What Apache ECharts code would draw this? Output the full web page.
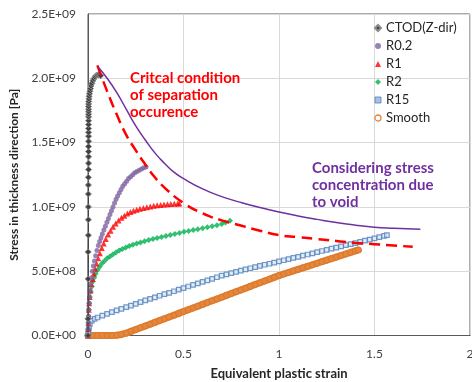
<!DOCTYPE html>
<html>
<head>
<meta charset="utf-8">
<script src="https://cdn.jsdelivr.net/npm/echarts@6/dist/echarts.min.js"></script>
<style>html,body{margin:0;padding:0;background:#fff;}#c{width:472px;height:382px;}</style>
</head>
<body>
<div id="c"></div>
<script>
// Values: x = equivalent plastic strain, y = stress in units of 1E+09 Pa
const xTicks = [0, 0.5, 1, 1.5, 2];
const yTicks = [0, 0.5, 1.0, 1.5, 2.0, 2.5];
const legendNames = ['CTOD(Z-dir)', 'R0.2', 'R1', 'R2', 'R15', 'Smooth'];

const ctod = [[0,0],[0,0.13],[0.001,0.44],[0.001,0.65],[0.002,0.78],[0.002,0.9],[0.002,1.0],[0.002,1.1],[0.002,1.17],[0.002,1.23],[0.003,1.29],[0.003,1.34],[0.003,1.39],[0.003,1.43],[0.003,1.47],[0.003,1.51],[0.003,1.55],[0.003,1.58],[0.003,1.61],[0.003,1.64],[0.003,1.67],[0.003,1.7],[0.003,1.72],[0.003,1.74],[0.003,1.76],[0.003,1.78],[0.003,1.8],[0.004,1.82],[0.005,1.84],[0.006,1.86],[0.008,1.88],[0.01,1.9],[0.013,1.92],[0.016,1.94],[0.02,1.96],[0.025,1.98],[0.03,1.995],[0.036,2.01],[0.042,2.02],[0.048,2.025],[0.054,2.028],[0.06,2.025],[0.066,2.02]];

const r02 = [[0,0],[0.001,0.05],[0.002,0.1],[0.003,0.15],[0.004,0.2],[0.006,0.25],[0.008,0.3],[0.011,0.35],[0.014,0.4],[0.018,0.45],[0.023,0.5],[0.028,0.54],[0.034,0.58],[0.04,0.62],[0.047,0.66],[0.054,0.7],[0.061,0.73],[0.068,0.76],[0.075,0.79],[0.083,0.82],[0.091,0.85],[0.099,0.88],[0.107,0.91],[0.115,0.94],[0.123,0.97],[0.131,1.0],[0.139,1.03],[0.147,1.06],[0.155,1.085],[0.164,1.11],[0.173,1.135],[0.182,1.16],[0.192,1.18],[0.202,1.2],[0.212,1.22],[0.223,1.235],[0.234,1.25],[0.245,1.265],[0.256,1.275],[0.268,1.285],[0.28,1.295],[0.292,1.305],[0.304,1.31]];

const r1 = [[0,0],[0.001,0.05],[0.002,0.1],[0.003,0.15],[0.004,0.2],[0.006,0.25],[0.009,0.3],[0.013,0.35],[0.018,0.4],[0.024,0.44],[0.03,0.48],[0.037,0.52],[0.045,0.56],[0.053,0.6],[0.062,0.64],[0.072,0.68],[0.082,0.715],[0.093,0.75],[0.105,0.785],[0.118,0.815],[0.131,0.845],[0.145,0.87],[0.16,0.895],[0.175,0.915],[0.19,0.932],[0.206,0.948],[0.222,0.96],[0.238,0.97],[0.255,0.978],[0.272,0.985],[0.29,0.992],[0.308,0.998],[0.326,1.003],[0.344,1.008],[0.362,1.012],[0.38,1.015],[0.398,1.018],[0.416,1.02],[0.434,1.022],[0.452,1.024],[0.47,1.026],[0.478,1.027]];

const r2 = [[0,0],[0.001,0.05],[0.002,0.1],[0.003,0.15],[0.005,0.2],[0.007,0.25],[0.01,0.3],[0.014,0.34],[0.019,0.38],[0.025,0.42],[0.032,0.45],[0.04,0.48],[0.05,0.51],[0.061,0.535],[0.073,0.56],[0.086,0.58],[0.1,0.6],[0.115,0.615],[0.13,0.63],[0.146,0.645],[0.163,0.66],[0.18,0.672],[0.198,0.684],[0.216,0.695],[0.235,0.705],[0.255,0.715],[0.275,0.724],[0.296,0.733],[0.318,0.742],[0.34,0.75],[0.362,0.758],[0.385,0.766],[0.408,0.774],[0.431,0.782],[0.455,0.79],[0.479,0.798],[0.503,0.806],[0.527,0.813],[0.551,0.82],[0.575,0.827],[0.6,0.834],[0.625,0.842],[0.65,0.85],[0.675,0.858],[0.7,0.868],[0.72,0.878],[0.743,0.893]];

const r15 = [[0,0],[0.002,0.03],[0.005,0.06],[0.01,0.09],[0.02,0.115],[0.035,0.13],[0.05,0.14],[0.075,0.155],[0.1,0.168],[0.125,0.182],[0.15,0.195],[0.175,0.207],[0.2,0.22],[0.225,0.233],[0.25,0.246],[0.275,0.26],[0.3,0.273],[0.325,0.285],[0.35,0.297],[0.375,0.309],[0.4,0.321],[0.425,0.332],[0.45,0.344],[0.475,0.356],[0.5,0.368],[0.525,0.381],[0.55,0.393],[0.575,0.405],[0.6,0.417],[0.625,0.429],[0.65,0.441],[0.675,0.453],[0.7,0.465],[0.725,0.475],[0.75,0.485],[0.775,0.495],[0.8,0.505],[0.825,0.514],[0.85,0.523],[0.875,0.532],[0.9,0.541],[0.925,0.55],[0.95,0.558],[0.975,0.567],[1.0,0.576],[1.025,0.585],[1.05,0.594],[1.075,0.603],[1.1,0.612],[1.125,0.621],[1.15,0.63],[1.175,0.639],[1.2,0.648],[1.225,0.657],[1.25,0.666],[1.275,0.675],[1.3,0.684],[1.325,0.693],[1.35,0.702],[1.375,0.71],[1.4,0.719],[1.425,0.728],[1.45,0.737],[1.475,0.746],[1.5,0.755],[1.525,0.765],[1.55,0.775],[1.565,0.78]];

const smooth = [[0,0],[0.025,0],[0.05,0],[0.075,0],[0.1,0],[0.125,0],[0.15,0.002],[0.175,0.008],[0.2,0.018],[0.225,0.032],[0.25,0.046],[0.275,0.06],[0.3,0.074],[0.325,0.088],[0.35,0.102],[0.375,0.116],[0.4,0.13],[0.425,0.144],[0.45,0.158],[0.475,0.172],[0.5,0.186],[0.525,0.2],[0.55,0.214],[0.575,0.228],[0.6,0.242],[0.625,0.256],[0.65,0.27],[0.675,0.284],[0.7,0.298],[0.725,0.312],[0.75,0.326],[0.775,0.34],[0.8,0.354],[0.825,0.368],[0.85,0.382],[0.875,0.396],[0.9,0.41],[0.925,0.424],[0.95,0.438],[0.975,0.452],[1.0,0.466],[1.025,0.478],[1.05,0.49],[1.075,0.502],[1.1,0.514],[1.125,0.526],[1.15,0.538],[1.175,0.55],[1.2,0.562],[1.225,0.574],[1.25,0.586],[1.275,0.598],[1.3,0.61],[1.325,0.622],[1.35,0.634],[1.375,0.646],[1.4,0.658],[1.415,0.665]];

const voidCurve = [[0.054,2.085],[0.1,2.0],[0.15,1.89],[0.2,1.76],[0.25,1.63],[0.3,1.52],[0.35,1.42],[0.4,1.34],[0.45,1.27],[0.5,1.22],[0.6,1.14],[0.7,1.08],[0.8,1.035],[0.9,0.995],[1.0,0.96],[1.1,0.93],[1.2,0.903],[1.3,0.878],[1.4,0.858],[1.5,0.842],[1.6,0.834],[1.74,0.826]];

const criticalCurve = [[0.049,2.1],[0.1,1.9],[0.15,1.72],[0.2,1.56],[0.25,1.44],[0.3,1.33],[0.35,1.23],[0.4,1.15],[0.5,1.03],[0.6,0.95],[0.7,0.895],[0.8,0.855],[0.9,0.815],[1.0,0.78],[1.1,0.765],[1.2,0.75],[1.3,0.735],[1.4,0.72],[1.5,0.71],[1.6,0.7],[1.7,0.69]];

const criticalText = 'Critcal condition\nof separation\noccurence';
const voidText = 'Considering stress\nconcentration due\nto void';

const FONT = 'Lato, "Open Sans", sans-serif';

function sci(v) {
  if (Math.abs(v) < 1e-12) return '0.0E+00';
  const p = v * 1e9;
  const e = Math.floor(Math.log10(p) + 1e-9);
  const m = p / Math.pow(10, e);
  return m.toFixed(1) + 'E+' + String(e).padStart(2, '0');
}

const chart = echarts.init(document.getElementById('c'), null, {renderer: 'canvas'});
chart.setOption({
  animation: false,
  backgroundColor: '#fff',
  textStyle: {fontFamily: FONT},
  grid: {left: 88, right: 2, top: 14, bottom: 46.5, show: true, borderColor: '#595959', borderWidth: 1,
    containLabel: false, outerBoundsMode: 'none'},
  xAxis: {
    type: 'value', min: 0, max: 2, interval: 0.5,
    name: 'Equivalent plastic strain', nameLocation: 'middle', nameGap: 32,
    nameTextStyle: {fontFamily: FONT, fontWeight: 'bold', fontSize: 13, color: '#262626'},
    axisLine: {show: true, lineStyle: {color: '#595959', width: 1}},
    axisTick: {show: false},
    splitLine: {show: true, lineStyle: {color: '#D9D9D9', width: 1}},
    axisLabel: {fontFamily: FONT, fontSize: 12, color: '#404040', margin: 13,
      formatter: v => xTicks.includes(v) ? String(v) : ''}
  },
  yAxis: {
    type: 'value', min: 0, max: 2.5, interval: 0.5,
    name: 'Stress in thickness direction [Pa]', nameLocation: 'middle', nameGap: 61,
    nameTextStyle: {fontFamily: FONT, fontWeight: 'bold', fontSize: 12, color: '#262626'},
    axisLine: {show: true, lineStyle: {color: '#595959', width: 1}},
    axisTick: {show: false},
    splitLine: {show: true, lineStyle: {color: '#D9D9D9', width: 1}},
    axisLabel: {fontFamily: FONT, fontSize: 12, color: '#404040', margin: 12,
      formatter: v => yTicks.some(t => Math.abs(t - v) < 1e-9) ? sci(v) : ''}
  },
  legend: {
    orient: 'vertical', left: 369, top: 16,
    itemWidth: 6, itemHeight: 6, itemGap: 4,
    textStyle: {fontFamily: FONT, fontSize: 13, color: '#262626', lineHeight: 14},
    data: [
      {name: 'CTOD(Z-dir)', icon: 'diamond'},
      {name: 'R0.2', icon: 'circle'},
      {name: 'R1', icon: 'triangle'},
      {name: 'R2', icon: 'diamond'},
      {name: 'R15', icon: 'rect', itemStyle: {color: '#95B3D7', borderColor: '#4F81BD', borderWidth: 1}},
      {name: 'Smooth', icon: 'circle', itemStyle: {color: '#ffffff', borderColor: '#E5863C', borderWidth: 1.3}}
    ]
  },
  graphic: [
    {type: 'text', left: 130, top: 70, z: 100, style: {text: criticalText, fill: '#FF0000', font: 'bold 15px ' + FONT, lineHeight: 17}},
    {type: 'text', left: 312, top: 160, z: 100, style: {text: voidText, fill: '#7030A0', font: 'bold 15px ' + FONT, lineHeight: 17}}
  ],
  series: [
    {name: 'Smooth', type: 'line', data: smooth, symbol: 'circle', symbolSize: 6, showAllSymbol: true,
      lineStyle: {color: '#E5863C', width: 7, cap: 'round', join: 'round'},
      itemStyle: {color: '#E5863C', borderColor: '#D97828', borderWidth: 1}, z: 2},
    {name: 'R15', type: 'scatter', data: r15, symbol: 'rect', symbolSize: 4.5,
      itemStyle: {color: '#DCE6F2', borderColor: '#4F81BD', borderWidth: 1.2}, z: 3},
    {name: 'R2', type: 'scatter', data: r2, symbol: 'diamond', symbolSize: 6,
      itemStyle: {color: '#00B050'}, z: 4},
    {name: 'R1', type: 'scatter', data: r1, symbol: 'triangle', symbolSize: 6,
      itemStyle: {color: '#FF0000'}, z: 5},
    {name: 'R0.2', type: 'scatter', data: r02, symbol: 'circle', symbolSize: 5,
      itemStyle: {color: '#8064A2'}, z: 6},
    {name: 'CTOD(Z-dir)', type: 'line', data: ctod, symbol: 'diamond', symbolSize: 6, showAllSymbol: true,
      lineStyle: {color: '#404040', width: 1},
      itemStyle: {color: '#404040', borderColor: '#8C8C8C', borderWidth: 1}, z: 7},
    {name: 'critical', type: 'line', data: criticalCurve, smooth: true, symbol: 'none',
      lineStyle: {color: '#FF0000', width: 2.5, type: [11, 6]}, z: 8},
    {name: 'void', type: 'line', data: voidCurve, smooth: true, symbol: 'none',
      lineStyle: {color: '#7030A0', width: 1.5}, z: 9}
  ]
});
</script>
</body>
</html>
